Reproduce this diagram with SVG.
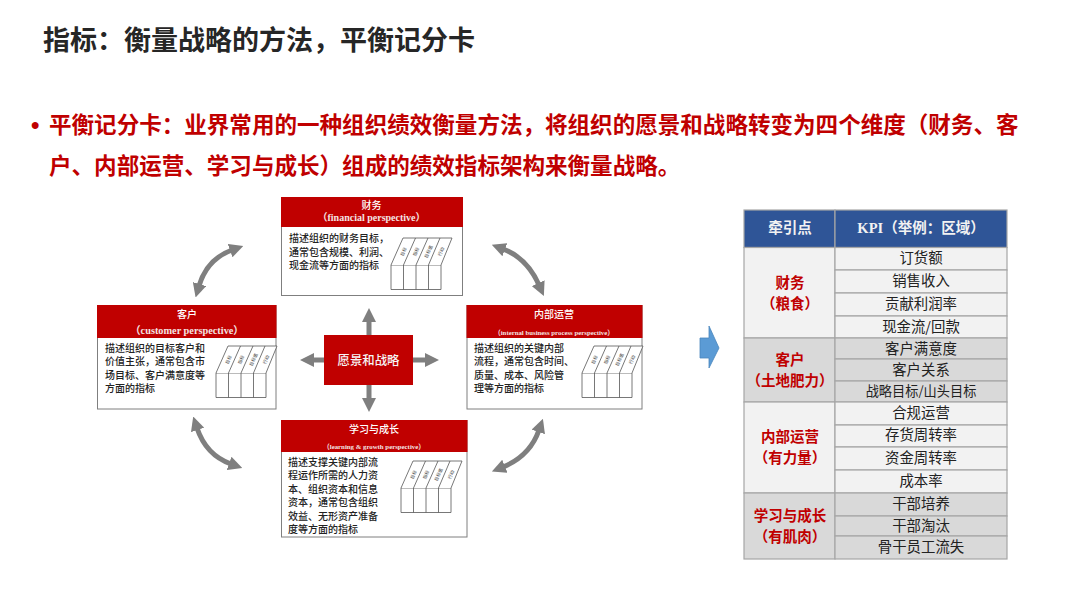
<svg xmlns="http://www.w3.org/2000/svg" width="1080" height="608" viewBox="0 0 1080 608">
<style>
text{font-family:"Noto Sans CJK SC","Liberation Sans",sans-serif}
.title{font-size:27px;font-weight:700;fill:#262626}
.bul{font-size:22.55px;font-weight:700;fill:#c00000}
.hd{fill:#c00000}
.bx{fill:#fff;stroke:#7f7f7f;stroke-width:1}
.h{font-size:10px;font-weight:500;fill:#fff;text-anchor:middle}
.en{font-family:"Liberation Serif","Noto Sans CJK SC",serif;font-weight:700;fill:#f4e4e4;text-anchor:middle}
.b{font-size:10px;font-weight:500;fill:#222}
.cv{fill:none;stroke:#7f7f7f;stroke-width:5;marker-start:url(#ah);marker-end:url(#ah)}
.st{fill:none;stroke:#7f7f7f;stroke-width:5;marker-end:url(#ah2)}
.ic{fill:#fff;stroke:#555;stroke-width:.8}
.ict{font-size:4.5px;fill:#333;text-anchor:middle}
.c1{fill:#f2f2f2;stroke:#a6a6a6;stroke-width:1.2}
.c2{fill:#d9d9d9;stroke:#a6a6a6;stroke-width:1.2}
.th{fill:#2f5597;stroke:#a6a6a6;stroke-width:1.2}
.r{font-size:14.4px;fill:#222;text-anchor:middle}
.l{font-size:14.5px;font-weight:700;fill:#c00000;text-anchor:middle}
.w{font-size:14.5px;font-weight:700;fill:#f2f2f2;text-anchor:middle}
</style>
<defs>
<marker id="ah" viewBox="0 0 14 14" refX="2" refY="7" markerWidth="14" markerHeight="14" markerUnits="userSpaceOnUse" orient="auto-start-reverse"><path d="M0,0L14,7L0,14z" fill="#7f7f7f"/></marker>
<marker id="ah2" viewBox="0 0 14 14" refX="2" refY="7" markerWidth="14" markerHeight="14" markerUnits="userSpaceOnUse" orient="auto"><path d="M0,0L14,7L0,14z" fill="#7f7f7f"/></marker>
<g id="icon">
<path class="ic" d="M0,0H50V24.500H0zM12.500,0V24.500M25,0V24.500M37.500,0V24.500"/>
<path class="ic" d="M0,0L12,-27H61L50,0M12.500,0L24.500,-27M25,0L37,-27M37.500,0L49,-27"/>
<text class="ict" transform="translate(14,-12.700) rotate(-66)">目标</text>
<text class="ict" transform="translate(26.500,-12.700) rotate(-66)">指标</text>
<text class="ict" transform="translate(39,-12.700) rotate(-66)">目标值</text>
<text class="ict" transform="translate(51.500,-12.700) rotate(-66)">行动</text>
</g>
</defs>
<rect width="1080" height="608" fill="#fff"/>
<g id="title"><text class="title" x="43" y="50">指标：衡量战略的方法，平衡记分卡</text></g>
<g id="bullet">
<text class="bul" x="31" y="133" style="font-size:24px;font-family:'Liberation Sans',sans-serif">•</text>
<text class="bul" x="49" y="133">平衡记分卡：业界常用的一种组织绩效衡量方法，将组织的愿景和战略转变为四个维度（财务、客</text>
<text class="bul" x="49" y="174">户、内部运营、学习与成长）组成的绩效指标架构来衡量战略。</text>
</g>
<g id="connectors">
<path class="cv" d="M232,250Q207,259 199,286"/>
<path class="cv" d="M503,249Q527,258 539,285"/>
<path class="cv" d="M197,428Q206,455 231,464"/>
<path class="cv" d="M539,430Q530,456 503,467"/>
<path class="st" d="M369,335V320"/>
<path class="st" d="M369,385V400"/>
<path class="st" d="M324,360H312"/>
<path class="st" d="M413,360H427"/>
<path d="M700,338H709V326L719,348L709,368V358H700z" fill="#5b9bd5" stroke="#4a86bd" stroke-width=".8"/>
</g>
<g id="node-vision">
<rect x="324" y="335" width="89" height="50" fill="#c00000"/>
<text x="368.500" y="364.500" font-size="12.400" font-weight="500" fill="#f5f5f5" text-anchor="middle">愿景和战略</text>
</g>
<g id="node-finance">
<rect class="bx" x="281.500" y="197.500" width="181" height="98"/>
<rect class="hd" x="281" y="197" width="182" height="30"/>
<text class="h" x="371.500" y="208.500">财务</text>
<text class="en" x="371.500" y="220.500" font-size="10">（financial perspective）</text>
<text class="b" x="289" y="242">描述组织的财务目标，</text>
<text class="b" x="289" y="255.500">通常包含规模、利润、</text>
<text class="b" x="289" y="269">现金流等方面的指标</text>
<use href="#icon" transform="translate(391,265)"/>
</g>
<g id="node-customer">
<rect class="bx" x="97.500" y="305.500" width="178.500" height="103.500"/>
<rect class="hd" x="97" y="305" width="179.500" height="33"/>
<text class="h" x="187" y="317.500">客户</text>
<text class="en" x="187" y="334" font-size="10.300">（customer perspective）</text>
<text class="b" x="105" y="351.500">描述组织的目标客户和</text>
<text class="b" x="105" y="365">价值主张，通常包含市</text>
<text class="b" x="105" y="378.500">场目标、客户满意度等</text>
<text class="b" x="105" y="392">方面的指标</text>
<use href="#icon" transform="translate(216,373)"/>
</g>
<g id="node-internal">
<rect class="bx" x="467" y="305.500" width="175" height="103.500"/>
<rect class="hd" x="466.500" y="305" width="176" height="33"/>
<text class="h" x="554" y="317.500">内部运营</text>
<text class="en" x="554" y="334.500" font-size="6.800">（internal business process perspective）</text>
<text class="b" x="474" y="351.500">描述组织的关键内部</text>
<text class="b" x="474" y="365">流程，通常包含时间、</text>
<text class="b" x="474" y="378.500">质量、成本、风险管</text>
<text class="b" x="474" y="392">理等方面的指标</text>
<use href="#icon" transform="translate(582,373)"/>
</g>
<g id="node-learning">
<rect class="bx" x="281.500" y="420.500" width="185.500" height="116.500"/>
<rect class="hd" x="281" y="420" width="186.500" height="32"/>
<text class="h" x="374" y="432.500">学习与成长</text>
<text class="en" x="374" y="448.500" font-size="6.800">（learning &amp; growth perspective）</text>
<text class="b" x="288" y="465.500">描述支撑关键内部流</text>
<text class="b" x="288" y="479">程运作所需的人力资</text>
<text class="b" x="288" y="492.500">本、组织资本和信息</text>
<text class="b" x="288" y="506">资本，通常包含组织</text>
<text class="b" x="288" y="519.500">效益、无形资产准备</text>
<text class="b" x="288" y="533">度等方面的指标</text>
<use href="#icon" transform="translate(401,488)"/>
</g>
<g id="kpi-table">
<rect class="th" x="744" y="210" width="91" height="37.500"/>
<rect class="th" x="835" y="210" width="172" height="37.500"/>
<text class="w" x="790" y="233">牵引点</text>
<text class="w" x="921" y="233"><tspan font-family="Liberation Serif,serif">KPI</tspan>（举例：区域）</text>
<rect class="c1" x="744" y="247.500" width="91" height="90.500"/>
<rect class="c2" x="744" y="338" width="91" height="64"/>
<rect class="c1" x="744" y="402" width="91" height="91"/>
<rect class="c2" x="744" y="493" width="91" height="66"/>
<rect class="c1" x="835" y="247.500" width="172" height="22.500"/>
<rect class="c1" x="835" y="270" width="172" height="23"/>
<rect class="c1" x="835" y="293" width="172" height="23"/>
<rect class="c1" x="835" y="316" width="172" height="22"/>
<rect class="c2" x="835" y="338" width="172" height="21"/>
<rect class="c2" x="835" y="359" width="172" height="22"/>
<rect class="c2" x="835" y="381" width="172" height="21"/>
<rect class="c1" x="835" y="402" width="172" height="23"/>
<rect class="c1" x="835" y="425" width="172" height="22"/>
<rect class="c1" x="835" y="447" width="172" height="23"/>
<rect class="c1" x="835" y="470" width="172" height="23"/>
<rect class="c2" x="835" y="493" width="172" height="23"/>
<rect class="c2" x="835" y="516" width="172" height="20"/>
<rect class="c2" x="835" y="536" width="172" height="23"/>
<text class="l" x="790" y="288">财务</text><text class="l" x="790" y="309">（粮食）</text>
<text class="l" x="790" y="364.500">客户</text><text class="l" x="790" y="386">（土地肥力）</text>
<text class="l" x="790" y="442">内部运营</text><text class="l" x="790" y="463">（有力量）</text>
<text class="l" x="790" y="521">学习与成长</text><text class="l" x="790" y="542">（有肌肉）</text>
<text class="r" x="921" y="263">订货额</text>
<text class="r" x="921" y="286">销售收入</text>
<text class="r" x="921" y="309">贡献利润率</text>
<text class="r" x="921" y="332">现金流/回款</text>
<text class="r" x="921" y="353.500">客户满意度</text>
<text class="r" x="921" y="375">客户关系</text>
<text class="r" x="921" y="396" style="font-size:13.200px">战略目标/山头目标</text>
<text class="r" x="921" y="417.500">合规运营</text>
<text class="r" x="921" y="440">存货周转率</text>
<text class="r" x="921" y="463">资金周转率</text>
<text class="r" x="921" y="486">成本率</text>
<text class="r" x="921" y="509">干部培养</text>
<text class="r" x="921" y="531">干部淘汰</text>
<text class="r" x="921" y="552">骨干员工流失</text>
</g>
</svg>
